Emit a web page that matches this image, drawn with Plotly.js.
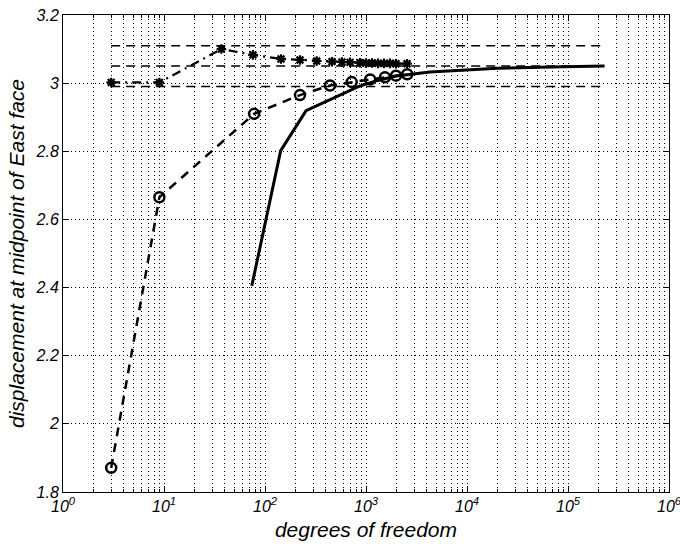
<!DOCTYPE html>
<html>
<head>
<meta charset="utf-8">
<script src="https://cdn.plot.ly/plotly-3.0.1.min.js"></script>
<style>
  html, body { margin: 0; padding: 0; background: #fff; }
  #chart { width: 680px; height: 544px; }
</style>
</head>
<body>
<div id="chart"></div>
<script>
// ---- data ----
const circleDof = [3, 9, 78, 222, 440, 722, 1100, 1540, 1980, 2560];
const circleVal = [1.871, 2.665, 2.910, 2.965, 2.993, 3.003, 3.011, 3.017, 3.022, 3.026];

const starDof = [3, 9, 37, 76, 144, 222, 325, 460, 578, 695, 873, 1000, 1146, 1314, 1507, 1728, 1982, 2550];
const starVal = [3.002, 3.002, 3.100, 3.083, 3.071, 3.068, 3.065, 3.063, 3.062, 3.061, 3.060, 3.059, 3.059, 3.058, 3.058, 3.058, 3.057, 3.057];

const solidDof = [74, 143, 255, 840, 1300, 2000, 4300, 10000, 20000, 90000, 230000];
const solidVal = [2.405, 2.802, 2.919, 2.990, 3.008, 3.021, 3.033, 3.039, 3.044, 3.048, 3.050];

const refLevels = [3.11, 3.05, 2.99];
const refDofRange = [3, 230000];

const xTickVals = [1, 10, 100, 1000, 10000, 100000, 1000000];
const xTickText = ['10<sup>0</sup>', '10<sup>1</sup>', '10<sup>2</sup>', '10<sup>3</sup>', '10<sup>4</sup>', '10<sup>5</sup>', '10<sup>6</sup>'];

const xTitle = 'degrees of freedom';
const yTitle = 'displacement at midpoint of East face';

// ---- traces ----
const traces = [];
refLevels.forEach(function (lv) {
  traces.push({
    x: refDofRange, y: [lv, lv], type: 'scatter', mode: 'lines',
    line: { color: '#000', width: 1.5, dash: '9px,6px' },
    hoverinfo: 'skip'
  });
});
traces.push({
  x: solidDof, y: solidVal, type: 'scatter', mode: 'lines',
  line: { color: '#000', width: 3 }
});
traces.push({
  x: circleDof, y: circleVal, type: 'scatter', mode: 'lines+markers',
  line: { color: '#000', width: 2.5, dash: '9px,7px' },
  marker: { symbol: 'circle-open', size: 10, color: '#000', line: { width: 2.5, color: '#000' } }
});
traces.push({
  x: starDof, y: starVal, type: 'scatter', mode: 'lines+markers',
  line: { color: '#000', width: 2.2, dash: '9px,5px,2px,5px' },
  marker: { symbol: 'asterisk-open', size: 8, color: '#000', line: { width: 2.2, color: '#000' } }
});

const font = { family: 'Liberation Sans, Arial, sans-serif', color: '#000', style: 'italic' };

const layout = {
  width: 680, height: 544,
  margin: { l: 63, r: 11, t: 15, b: 52 },
  paper_bgcolor: '#fff', plot_bgcolor: '#fff',
  showlegend: false,
  font: Object.assign({}, font, { size: 14 }),
  xaxis: {
    type: 'log', range: [-0.00001, 6.00001],
    tickvals: xTickVals, ticktext: xTickText,
    ticklabeloverflow: 'allow',
    ticks: 'inside', ticklen: 6, tickwidth: 1, tickcolor: '#000',
    showline: true, linecolor: '#000', linewidth: 1, mirror: 'ticks',
    showgrid: true, gridcolor: '#000', gridwidth: 1, griddash: '1px,3px',
    zeroline: false,
    tickfont: Object.assign({}, font, { size: 16 }),
    minor: { dtick: 'D1', ticks: 'inside', ticklen: 3, tickcolor: '#000',
             showgrid: true, gridcolor: '#000', gridwidth: 1, griddash: '1px,3px' },
    title: { text: xTitle, font: Object.assign({}, font, { size: 21 }), standoff: 8 },
    automargin: false
  },
  yaxis: {
    range: [1.8, 3.2], dtick: 0.2, tick0: 1.8,
    ticks: 'inside', ticklen: 6, tickwidth: 1, tickcolor: '#000',
    showline: true, linecolor: '#000', linewidth: 1, mirror: 'ticks',
    showgrid: true, gridcolor: '#000', gridwidth: 1, griddash: '1px,3px',
    zeroline: false,
    tickfont: Object.assign({}, font, { size: 16 }),
    title: { text: yTitle, font: Object.assign({}, font, { size: 21 }), standoff: 5 },
    automargin: false
  }
};

Plotly.newPlot('chart', traces, layout, { displayModeBar: false, staticPlot: true });
</script>
</body>
</html>
